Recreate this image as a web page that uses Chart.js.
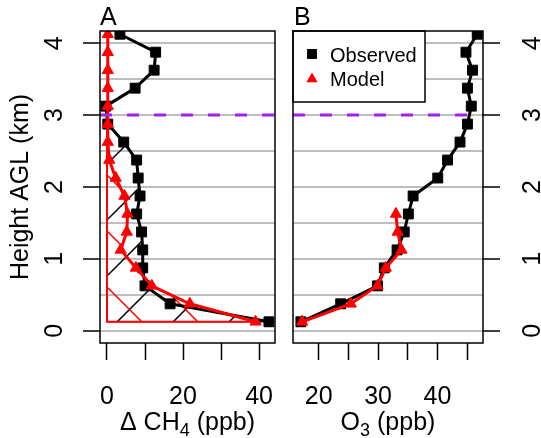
<!DOCTYPE html>
<html>
<head>
<meta charset="utf-8">
<script src="https://cdn.jsdelivr.net/npm/chart.js@4.4.0/dist/chart.umd.min.js"></script>
<style>
  html, body { margin: 0; padding: 0; background: #fff; }
  #wrap { position: relative; width: 541px; height: 438px; }
  canvas { position: absolute; top: 0; }
</style>
</head>
<body>
<div id="wrap">
  <canvas id="chartA" width="285" height="438" style="left:0"></canvas>
  <canvas id="chartB" width="256" height="438" style="left:285px"></canvas>
</div>
<script>
// ---- data ----
const heights = [0.125, 0.375, 0.625, 0.875, 1.125, 1.375, 1.625, 1.875, 2.125,
                 2.375, 2.625, 2.875, 3.125, 3.375, 3.625, 3.875, 4.125];
const ch4Observed = [42.6, 16.6, 10.0, 9.4, 9.4, 9.1, 7.8, 8.7, 8.2,
                     7.8, 4.4, 0.2, -0.3, 7.4, 12.4, 12.8, 3.4];
const ch4Model = [39.1, 21.8, 11.8, 7.6, 3.6, 5.2, 5.4, 4.6, 2.3,
                  0.6, 0.2, 0.2, 0.2, 0.2, 0.2, 0.2, 0.2];
const o3Observed = [17.0, 23.7, 29.9, 31.05, 33.2, 34.4, 35.1, 35.9, 40.05,
                    41.7, 43.8, 45.05, 45.7, 45.05, 45.9, 44.8, 46.7];
const o3ModelHeights = [0.125, 0.375, 0.625, 0.875, 1.125, 1.375, 1.625];
const o3Model = [17.2, 25.4, 29.9, 31.3, 33.95, 33.3, 33.0];

const ch4Ticks = [0, 10, 20, 30, 40];
const ch4Labels = [0, 20, 40];
const o3Ticks = [20, 25, 30, 35, 40, 45];
const o3Labels = [20, 30, 40];
const heightTicks = [0, 1, 2, 3, 4];
const gridHeights = [0, 0.5, 1, 1.5, 2, 2.5, 3, 3.5, 4];
const blTop = 3;   // dashed boundary-layer line (km)

const FONT = "'Liberation Sans', Arial, Helvetica, sans-serif";
const HATCH = 56;

function toPoints(xs, ys) {
  return xs.map((v, i) => ({ x: v, y: ys[i] }));
}

function makeDatasets(obsX, obsY, modX, modY, xMin, xMax) {
  return [
    {
      label: 'BL top',
      data: [{ x: xMin, y: blTop }, { x: xMax, y: blTop }],
      showLine: true, borderColor: '#a020f0', borderWidth: 3,
      borderDash: [12, 15], pointRadius: 0
    },
    {
      label: 'Model',
      data: toPoints(modX, modY),
      showLine: true, borderColor: '#ff0000', backgroundColor: '#ff0000',
      borderWidth: 3, borderJoinStyle: 'round',
      pointStyle: 'triangle', pointRadius: 6.5,
      pointBorderWidth: 1, pointBorderColor: '#ff0000', pointBackgroundColor: '#ff0000'
    },
    {
      label: 'Observed',
      data: toPoints(obsX, obsY),
      showLine: true, borderColor: '#000', backgroundColor: '#000',
      borderWidth: 3, borderJoinStyle: 'round',
      pointStyle: 'rect', pointRadius: 7,
      pointBorderWidth: 1, pointBorderColor: '#000', pointBackgroundColor: '#000'
    }
  ];
}

function xScale(min, max, ticks) {
  return {
    type: 'linear', position: 'bottom', min, max,
    afterBuildTicks: s => { s.ticks = ticks.map(v => ({ value: v })); },
    afterFit: s => { s.height = 95; },
    grid: { drawOnChartArea: false, drawTicks: true, tickLength: 17, tickColor: '#000', tickWidth: 1.5 },
    border: { display: false },
    ticks: { autoSkip: false, callback: () => '' }
  };
}

function yScale(position, width) {
  return {
    type: 'linear', position, min: -0.17, max: 4.17,
    afterBuildTicks: s => { s.ticks = gridHeights.map(v => ({ value: v })); },
    afterFit: s => { s.width = width; },
    grid: {
      color: '#bebebe', lineWidth: 2, drawTicks: true, tickLength: 17, tickWidth: 1.5,
      tickColor: c => (c.tick && Number.isInteger(c.tick.value)) ? '#000' : 'rgba(0,0,0,0)'
    },
    border: { display: false },
    ticks: { autoSkip: false, callback: () => '' }
  };
}

// hatched polygon between x = 0 and a profile (below the BL top)
function hatchRegion(chart, xs, ys, color, dir, phase, borderColor, borderWidth) {
  const { ctx, chartArea: a, scales } = chart;
  const keep = ys.map((h, i) => i).filter(i => ys[i] < blTop);
  const pts = keep.map(i => [scales.x.getPixelForValue(xs[i]), scales.y.getPixelForValue(ys[i])]);
  const x0 = scales.x.getPixelForValue(0);
  const path = () => {
    ctx.beginPath();
    ctx.moveTo(x0, pts[0][1]);
    pts.forEach(p => ctx.lineTo(p[0], p[1]));
    ctx.lineTo(x0, pts[pts.length - 1][1]);
    ctx.closePath();
  };
  ctx.save();
  path();
  ctx.clip();
  ctx.strokeStyle = color;
  ctx.lineWidth = 1.5;
  ctx.beginPath();
  for (let c = phase - 25 * HATCH; c < phase + 25 * HATCH; c += HATCH) {
    if (dir > 0) {        // "/"  x + y = c
      ctx.moveTo(c - a.top, a.top); ctx.lineTo(c - a.bottom, a.bottom);
    } else {              // "\"  x - y = c
      ctx.moveTo(c + a.top, a.top); ctx.lineTo(c + a.bottom, a.bottom);
    }
  }
  ctx.stroke();
  ctx.restore();
  ctx.save();
  path();
  ctx.strokeStyle = borderColor;
  ctx.lineWidth = borderWidth;
  ctx.stroke();
  ctx.restore();
}

function drawRotated(ctx, text, x, y) {
  ctx.save();
  ctx.translate(x, y);
  ctx.rotate(-Math.PI / 2);
  ctx.fillText(text, 0, 0);
  ctx.restore();
}

function drawSubTitle(ctx, parts, cx, baseline) {
  const big = `25px ${FONT}`, small = `18px ${FONT}`;
  let total = 0;
  parts.forEach(p => { ctx.font = p.sub ? small : big; total += ctx.measureText(p.t).width; });
  let x = cx - total / 2;
  ctx.textAlign = 'left';
  parts.forEach(p => {
    ctx.font = p.sub ? small : big;
    ctx.fillText(p.t, x, baseline + (p.sub ? 6 : 0));
    x += ctx.measureText(p.t).width;
  });
}

const decor = {
  id: 'decor',
  beforeDatasetsDraw(chart, args, opts) {
    if (opts.hatch) {
      hatchRegion(chart, ch4Observed, heights, '#000', 1, 439, '#000', 1);
      hatchRegion(chart, ch4Model, heights, '#ff0000', -1, -180, '#ff0000', 2);
    }
  },
  afterDatasetsDraw(chart, args, opts) {
    const { ctx, chartArea: a, scales: { x, y } } = chart;
    ctx.save();
    // legend
    if (opts.legend) {
      const lx = a.left, ly = a.top, lw = 132, lh = 71;
      ctx.fillStyle = '#fff';
      ctx.fillRect(lx, ly, lw, lh);
      ctx.strokeStyle = '#000';
      ctx.lineWidth = 1.5;
      ctx.strokeRect(lx, ly, lw, lh);
      ctx.fillStyle = '#000';
      Chart.helpers.drawPoint(ctx, { pointStyle: 'rect', radius: 7, rotation: 0, borderWidth: 0 }, lx + 19, 54);
      ctx.fillStyle = '#ff0000';
      Chart.helpers.drawPoint(ctx, { pointStyle: 'triangle', radius: 6.5, rotation: 0, borderWidth: 0 }, lx + 19, 79);
      ctx.fillStyle = '#000';
      ctx.font = `20px ${FONT}`;
      ctx.textAlign = 'left';
      ctx.textBaseline = 'alphabetic';
      ctx.fillText('Observed', lx + 37, 62);
      ctx.fillText('Model', lx + 37, 86);
    }
    // plot box
    ctx.strokeStyle = '#000';
    ctx.lineWidth = 1.5;
    ctx.strokeRect(a.left, a.top, a.right - a.left, a.bottom - a.top);
    // tick labels
    ctx.fillStyle = '#000';
    ctx.font = `25px ${FONT}`;
    ctx.textAlign = 'center';
    ctx.textBaseline = 'alphabetic';
    opts.xLabels.forEach(v => ctx.fillText(String(v), x.getPixelForValue(v), 404));
    heightTicks.forEach(v => drawRotated(ctx, String(v), opts.yLabelX, y.getPixelForValue(v)));
    // y title
    if (opts.yTitle) {
      ctx.textAlign = 'center';
      drawRotated(ctx, opts.yTitle, 28, y.getPixelForValue(2));
    }
    // x title
    drawSubTitle(ctx, opts.xTitle, (a.left + a.right) / 2, 430);
    // panel letter
    ctx.font = `25px ${FONT}`;
    ctx.textAlign = 'left';
    ctx.fillText(opts.letter, a.left + opts.letterDx, 25);
    ctx.restore();
  }
};

Chart.defaults.font.family = FONT;

new Chart(document.getElementById('chartA'), {
  type: 'scatter',
  data: { datasets: makeDatasets(ch4Observed, heights, ch4Model, heights, -1.84, 44.2) },
  options: {
    responsive: false, animation: false, devicePixelRatio: 1,
    layout: { padding: { left: 0, right: 10, top: 31, bottom: 0 } },
    scales: { x: xScale(-1.84, 44.2, ch4Ticks), y: yScale('left', 100) },
    plugins: {
      legend: { display: false }, tooltip: { enabled: false },
      decor: {
        hatch: true, legend: false, xLabels: ch4Labels, yLabelX: 62,
        yTitle: 'Height AGL (km)',
        xTitle: [{ t: '\u0394 CH' }, { t: '4', sub: true }, { t: ' (ppb)' }],
        letter: 'A', letterDx: 0
      }
    }
  },
  plugins: [decor]
});

new Chart(document.getElementById('chartB'), {
  type: 'scatter',
  data: { datasets: makeDatasets(o3Observed, heights, o3Model, o3ModelHeights, 15.67, 47.67) },
  options: {
    responsive: false, animation: false, devicePixelRatio: 1,
    layout: { padding: { left: 6, right: 0, top: 31, bottom: 0 } },
    scales: { x: xScale(15.67, 47.67, o3Ticks), y: yScale('right', 58) },
    plugins: {
      legend: { display: false }, tooltip: { enabled: false },
      decor: {
        hatch: false, legend: true, xLabels: o3Labels, yLabelX: 255,
        yTitle: null,
        xTitle: [{ t: 'O' }, { t: '3', sub: true }, { t: ' (ppb)' }],
        letter: 'B', letterDx: 1
      }
    }
  },
  plugins: [decor]
});
</script>
</body>
</html>
